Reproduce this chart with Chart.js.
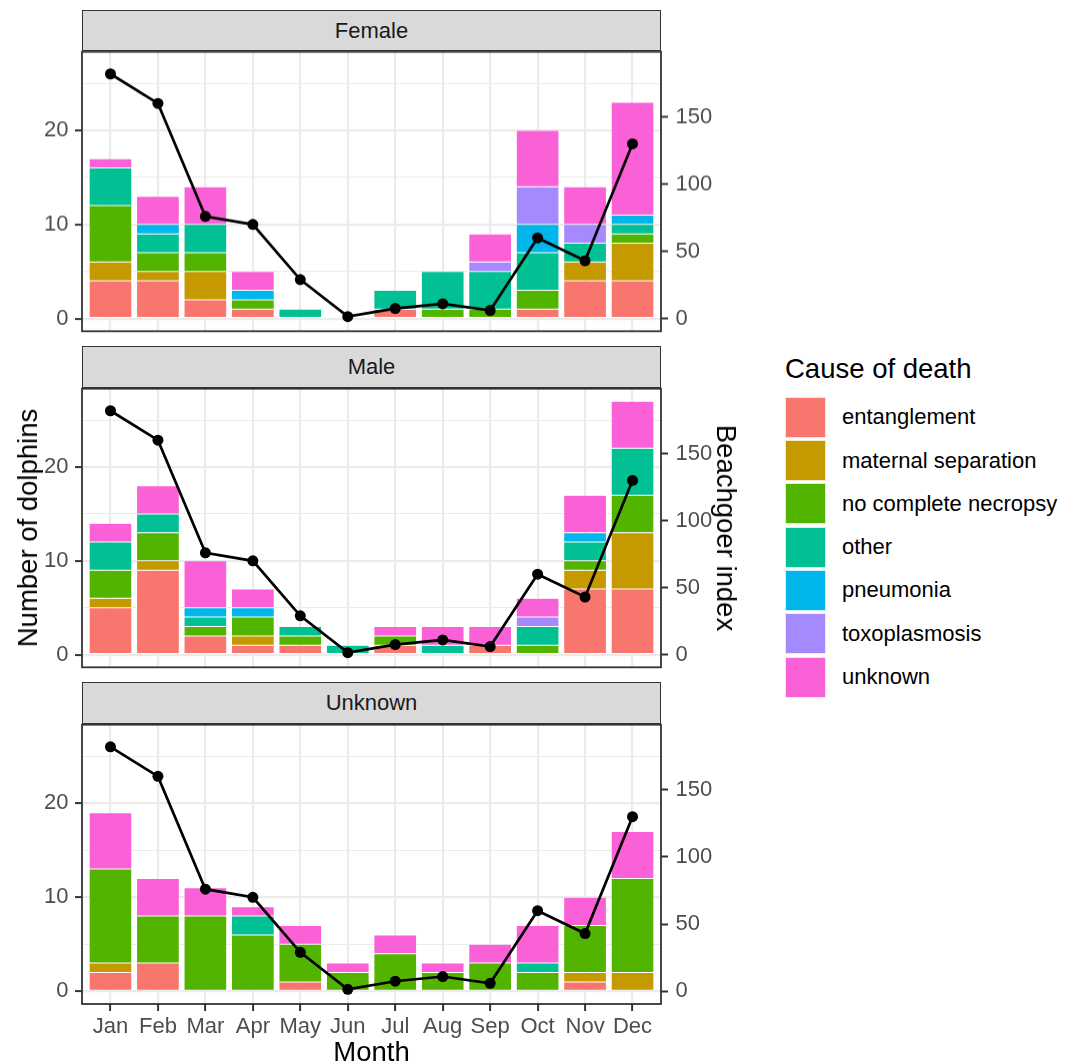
<!DOCTYPE html>
<html>
<head>
<meta charset="utf-8">
<script src="https://cdn.jsdelivr.net/npm/chart.js@4.4.1/dist/chart.umd.min.js"></script>
<style>
  html, body { margin:0; padding:0; background:#fff; }
  body { width:1065px; height:1064px; position:relative; overflow:hidden; font-family:"Liberation Sans", Arial, sans-serif; }
  canvas { position:absolute; left:0; }
  .strip { position:absolute; left:82px; width:579px; height:41.4px; box-sizing:border-box; background:#D9D9D9; border:1.8px solid #333333; color:#1A1A1A; font-size:22px; display:flex; align-items:center; justify-content:center; }
  .title { position:absolute; font-size:27.5px; color:#000; white-space:nowrap; transform-origin:center center; }
  .legend-title { position:absolute; left:785px; top:353px; font-size:27.5px; color:#000; white-space:nowrap; }
  .key { position:absolute; left:785px; width:41px; height:41px; box-sizing:border-box; border:1px solid rgba(255,255,255,0.8); }
  .klabel { position:absolute; left:842px; font-size:22px; color:#000; white-space:nowrap; line-height:26px; }
</style>
</head>
<body>
<div class="strip" style="top:10px">Female</div>
<div class="strip" style="top:346.3px">Male</div>
<div class="strip" style="top:682.3px">Unknown</div>
<canvas id="cF"></canvas>
<canvas id="cM"></canvas>
<canvas id="cU"></canvas>
<div class="title" style="left:28px;top:527.5px;transform:translate(-50%,-50%) rotate(-90deg)">Number of dolphins</div>
<div class="title" style="left:726px;top:527.5px;transform:translate(-50%,-50%) rotate(90deg)">Beachgoer index</div>
<div class="title" style="left:371.5px;top:1052px;transform:translate(-50%,-50%)">Month</div>
<div class="legend-title">Cause of death</div>
<div id="legend"></div>
<script>
// ---------------- DATA ----------------
const months = ['Jan','Feb','Mar','Apr','May','Jun','Jul','Aug','Sep','Oct','Nov','Dec'];
const causes = ['entanglement','maternal separation','no complete necropsy','other','pneumonia','toxoplasmosis','unknown'];
const causeColors = ['#F8766D','#C49A00','#53B400','#00C094','#00B6EB','#A58AFF','#FB61D7'];
const panels = ['Female','Male','Unknown'];

// Female
const femaleEntanglement = [4,4,2,1,0,0,1,0,0,1,4,4];
const femaleMaternal     = [2,1,3,0,0,0,0,0,0,0,2,4];
const femaleNoNecropsy   = [6,2,2,1,0,0,0,1,1,2,0,1];
const femaleOther        = [4,2,3,0,1,0,2,4,4,4,2,1];
const femalePneumonia    = [0,1,0,1,0,0,0,0,0,3,0,1];
const femaleToxo         = [0,0,0,0,0,0,0,0,1,4,2,0];
const femaleUnknown      = [1,3,4,2,0,0,0,0,3,6,4,12];
// Male
const maleEntanglement = [5,9,2,1,1,0,1,0,1,0,7,7];
const maleMaternal     = [1,1,0,1,0,0,0,0,0,0,2,6];
const maleNoNecropsy   = [3,3,1,2,1,0,1,0,0,1,1,4];
const maleOther        = [3,2,1,0,1,1,0,1,0,2,2,5];
const malePneumonia    = [0,0,1,1,0,0,0,0,0,0,1,0];
const maleToxo         = [0,0,0,0,0,0,0,0,0,1,0,0];
const maleUnknown      = [2,3,5,2,0,0,1,2,2,2,4,5];
// Unknown sex
const unkEntanglement = [2,3,0,0,1,0,0,0,0,0,1,0];
const unkMaternal     = [1,0,0,0,0,0,0,0,0,0,1,2];
const unkNoNecropsy   = [10,5,8,6,4,2,4,2,3,2,5,10];
const unkOther        = [0,0,0,2,0,0,0,0,0,1,0,0];
const unkPneumonia    = [0,0,0,0,0,0,0,0,0,0,0,0];
const unkToxo         = [0,0,0,0,0,0,0,0,0,0,0,0];
const unkUnknown      = [6,4,3,1,2,1,2,1,2,4,3,5];

// Beachgoer index (secondary axis, same in each panel)
const beachgoerIndex = [182,160,76,70,29,1.5,7.5,11,6,60,43,130];

// tick labels
const countTicks = [0,5,10,15,20,25];      // major at multiples of 10, minor between
const countLabelled = [0,10,20];
const beachTicks = [0,50,100,150];
const secFactor = 7;   // beachgoer index = 7 x count

// ---------------- LAYOUT ----------------
const PANEL_LEFT = 82, PANEL_RIGHT = 661, CANVAS_W = 760, PAD_TOP = 20, PLOT_H = 280.3;
const countMin = -1.35, countMax = 28.35;

Chart.defaults.font.family = '"Liberation Sans", Arial, sans-serif';
Chart.defaults.animation = false;

const borderPlugin = {
  id: 'panelBorder',
  afterDraw(chart) {
    const a = chart.chartArea, ctx = chart.ctx;
    ctx.save();
    ctx.strokeStyle = '#333333';
    ctx.lineWidth = 1.8;
    ctx.strokeRect(a.left, a.top, a.right - a.left, a.bottom - a.top);
    ctx.restore();
  }
};

function makePanel(id, seriesList, top, isBottom) {
  const canvas = document.getElementById(id);
  const bottomExtra = isBottom ? 45 : 20;
  const h = PAD_TOP + PLOT_H + bottomExtra;
  canvas.width = CANVAS_W; canvas.height = h;
  canvas.style.top = (top - PAD_TOP) + 'px';
  canvas.style.width = CANVAS_W + 'px'; canvas.style.height = h + 'px';

  const datasets = seriesList.map((vals, k) => ({
    type: 'bar',
    label: causes[k],
    data: vals.map((v, i) => ({ x: i + 1, y: v === 0 ? null : v })),
    backgroundColor: causeColors[k],
    borderColor: 'rgba(255,255,255,0.6)',
    borderWidth: 0.5,
    borderSkipped: false,
    barPercentage: 1.0,
    categoryPercentage: 0.9,
    yAxisID: 'y',
    stack: 's',
    order: 1
  }));
  datasets.push({
    type: 'line',
    label: 'Beachgoer index',
    data: beachgoerIndex.map((v, i) => ({ x: i + 1, y: v })),
    borderColor: '#000000',
    borderWidth: 2.7,
    pointRadius: 5.5,
    pointBackgroundColor: '#000000',
    pointBorderWidth: 0,
    yAxisID: 'y2',
    order: 0,
    tension: 0
  });

  new Chart(canvas, {
    data: { datasets },
    plugins: [borderPlugin],
    options: {
      responsive: false,
      animation: false,
      layout: { padding: { top: PAD_TOP, bottom: isBottom ? 0 : 20, left: 0, right: 0 } },
      plugins: { legend: { display: false }, tooltip: { enabled: false } },
      scales: {
        x: {
          type: 'linear',
          offset: false,
          min: 0.4, max: 12.6,
          afterBuildTicks: s => { s.ticks = months.map((m, i) => ({ value: i + 1 })); },
          afterFit: s => { s.height = isBottom ? 45 : 0; },
          ticks: {
            display: isBottom,
            callback: (v) => months[Math.round(v) - 1],
            color: '#4D4D4D',
            font: { size: 22 },
            padding: 3,
            maxRotation: 0,
            autoSkip: false
          },
          grid: {
            offset: false,
            color: '#EBEBEB',
            lineWidth: 2.2,
            drawTicks: isBottom,
            tickLength: 7,
            tickColor: '#333333',
            tickWidth: 2
          },
          border: { display: false }
        },
        y: {
          type: 'linear',
          position: 'left',
          min: countMin, max: countMax,
          afterBuildTicks: s => { s.ticks = countTicks.map(v => ({ value: v })); },
          afterFit: s => { s.width = PANEL_LEFT; },
          ticks: {
            callback: (v) => countLabelled.includes(v) ? String(v) : '',
            color: '#4D4D4D',
            font: { size: 22 },
            padding: 6.5,
            autoSkip: false
          },
          grid: {
            color: '#EBEBEB',
            lineWidth: ctx => (ctx.tick && countLabelled.includes(ctx.tick.value)) ? 2.2 : 1.1,
            drawTicks: true,
            tickLength: 7,
            tickColor: ctx => (ctx.tick && countLabelled.includes(ctx.tick.value)) ? '#333333' : 'rgba(0,0,0,0)',
            tickWidth: 2
          },
          border: { display: false }
        },
        y2: {
          type: 'linear',
          position: 'right',
          min: countMin * secFactor, max: countMax * secFactor,
          afterBuildTicks: s => { s.ticks = beachTicks.map(v => ({ value: v })); },
          afterFit: s => { s.width = CANVAS_W - PANEL_RIGHT; },
          ticks: {
            color: '#4D4D4D',
            font: { size: 22 },
            padding: 7.5,
            autoSkip: false
          },
          grid: {
            drawOnChartArea: false,
            drawTicks: true,
            tickLength: 7,
            tickColor: '#333333',
            tickWidth: 2
          },
          border: { display: false }
        }
      }
    }
  });
}

makePanel('cF', [femaleEntanglement, femaleMaternal, femaleNoNecropsy, femaleOther, femalePneumonia, femaleToxo, femaleUnknown], 51.4, false);
makePanel('cM', [maleEntanglement, maleMaternal, maleNoNecropsy, maleOther, malePneumonia, maleToxo, maleUnknown], 387.7, false);
makePanel('cU', [unkEntanglement, unkMaternal, unkNoNecropsy, unkOther, unkPneumonia, unkToxo, unkUnknown], 723.7, true);

// legend
const legend = document.getElementById('legend');
causes.forEach((c, k) => {
  const top = 396.7 + k * 43.3;
  const key = document.createElement('div');
  key.className = 'key';
  key.style.top = top + 'px';
  key.style.background = causeColors[k];
  legend.appendChild(key);
  const lab = document.createElement('div');
  lab.className = 'klabel';
  lab.style.top = (top + 20.5 - 13) + 'px';
  lab.textContent = c;
  legend.appendChild(lab);
});
</script>
</body>
</html>
